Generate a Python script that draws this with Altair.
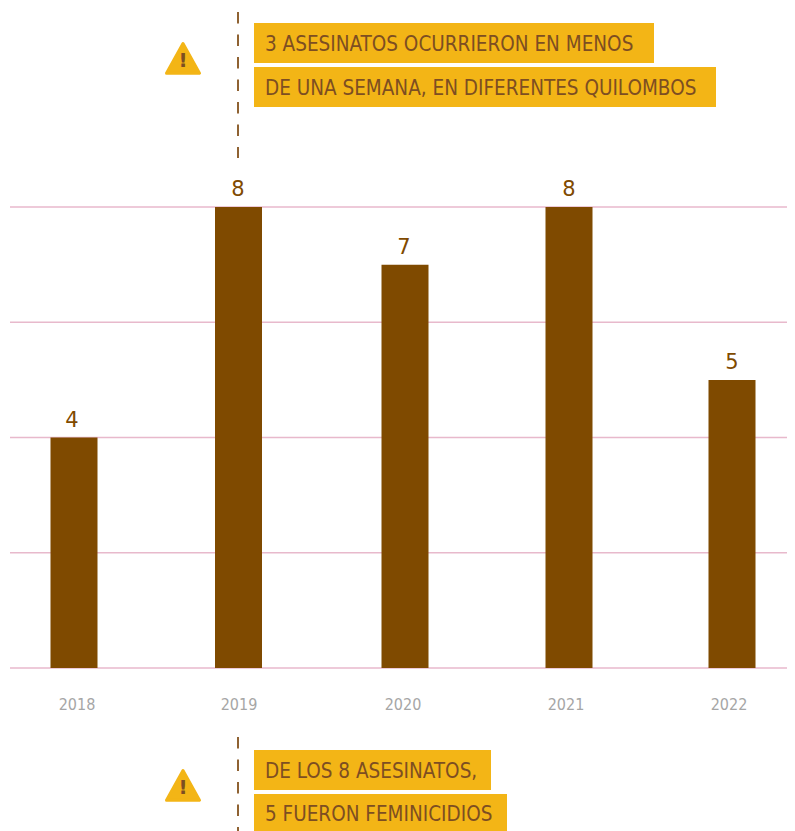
import altair as alt
import pandas as pd

years = [2018, 2019, 2020, 2021, 2022]
counts = [4, 8, 7, 8, 5]
grid_values = [0, 2, 4, 6, 8]
top_lines = ["3 ASESINATOS OCURRIERON EN MENOS", "DE UNA SEMANA, EN DIFERENTES QUILOMBOS"]
bottom_lines = ["DE LOS 8 ASESINATOS,", "5 FUERON FEMINICIDIOS"]

BROWN = "#7f4a00"
TEXT_BROWN = "#7d4e22"
YELLOW = "#f3b516"
DASH = "#8f6232"
PINK = "#e8b9cc"
GREY = "#a6a6a6"
CONDENSED = "DejaVu Sans Condensed"
W = 779
H = 823

df = pd.DataFrame({"year": years, "count": counts})
y_scale = alt.Scale(domain=[0, 8], range=[660, 199])
bar_x = alt.Scale(type="linear", domain=years, range=[66, 230.5, 397, 561, 724], padding=0)
label_x = alt.Scale(type="linear", domain=years, range=[69, 231, 395, 558, 721])
value_x = alt.Scale(type="linear", domain=years, range=[64, 230, 396, 561, 724])

grid = alt.Chart(pd.DataFrame({"v": grid_values})).mark_rule(color=PINK, strokeWidth=1.3).encode(
    y=alt.Y("v:Q", scale=y_scale, axis=None), x=alt.value(2), x2=alt.value(W))

bars = alt.Chart(df).mark_bar(color=BROWN, width=47).encode(
    x=alt.X("year:Q", scale=bar_x, axis=None),
    y=alt.Y("count:Q", scale=y_scale, axis=None))

values = alt.Chart(df).mark_text(font="DejaVu Sans", fontSize=21, color=BROWN, baseline="bottom", dy=-7).encode(
    x=alt.X("year:Q", scale=value_x, axis=None),
    y=alt.Y("count:Q", scale=y_scale, axis=None),
    text=alt.Text("count:Q"))

year_labels = alt.Chart(df).mark_text(font=CONDENSED, fontSize=16, color=GREY, baseline="middle").encode(
    x=alt.X("year:Q", scale=label_x, axis=None),
    y=alt.value(697),
    text=alt.Text("year:N"))


def rect(x, x2, y, y2):
    return alt.Chart(pd.DataFrame({"a": [0]})).mark_rect(color=YELLOW).encode(
        x=alt.value(x), x2=alt.value(x2), y=alt.value(y), y2=alt.value(y2))


def line(text, y):
    return alt.Chart(pd.DataFrame({"t": [text]})).mark_text(
        font=CONDENSED, fontSize=20.5, color=TEXT_BROWN, align="left", baseline="middle").encode(
        x=alt.value(257), y=alt.value(y), text="t:N")


def dashed(y, y2):
    return alt.Chart(pd.DataFrame({"a": [0]})).mark_rule(
        color=DASH, strokeWidth=2, strokeDash=[11.5, 11]).encode(
        x=alt.value(230), y=alt.value(y), y2=alt.value(y2))


TRI = "M0,-1 L1,0.8 L-1,0.8 Z"


def warn(cy):
    tri = alt.Chart(pd.DataFrame({"a": [0]})).mark_point(
        shape=TRI, filled=True, color=YELLOW, size=1089, stroke=YELLOW, strokeWidth=3,
        strokeJoin="round", opacity=1).encode(x=alt.value(175), y=alt.value(cy))
    bang = alt.Chart(pd.DataFrame({"t": ["!"]})).mark_text(
        font="DejaVu Sans", fontWeight="bold", fontSize=20, color=TEXT_BROWN, baseline="middle").encode(
        x=alt.value(175), y=alt.value(cy + 1), text="t:N")
    return tri + bang


chart = alt.layer(
    grid, bars, values, year_labels,
    dashed(4, 150), dashed(729, H),
    rect(246, 646, 15, 55), rect(246, 708, 59, 99),
    rect(246, 483, 742, 782), rect(246, 499, 786, H),
    line(top_lines[0], 37), line(top_lines[1], 81),
    line(bottom_lines[0], 764), line(bottom_lines[1], 807),
    warn(52), warn(779),
).resolve_scale(x="independent").properties(
    width=W, height=H, padding=0,
    autosize=alt.AutoSizeParams(type="none"),
).configure_view(stroke=None)

chart.save("out.html", embed_options={"renderer": "svg", "actions": False})
